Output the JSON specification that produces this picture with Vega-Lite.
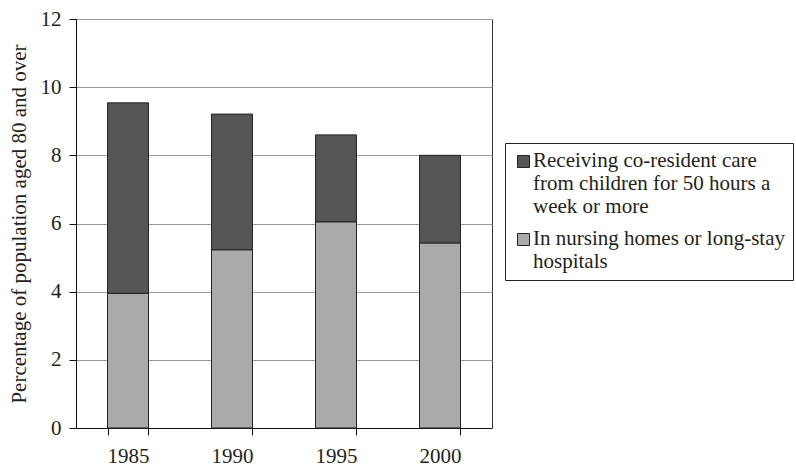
{
  "$schema": "https://vega.github.io/schema/vega-lite/v6.json",
  "width": 416,
  "height": 409,
  "autosize": "none",
  "padding": {"left": 76, "top": 19, "right": 304, "bottom": 39},
  "background": "white",
  "data": {
    "values": [
      {"year": "1985", "series": "In nursing homes or long-stay hospitals", "value": 3.95},
      {"year": "1985", "series": "Receiving co-resident care from children for 50 hours a week or more", "value": 5.59},
      {"year": "1990", "series": "In nursing homes or long-stay hospitals", "value": 5.23},
      {"year": "1990", "series": "Receiving co-resident care from children for 50 hours a week or more", "value": 3.98},
      {"year": "1995", "series": "In nursing homes or long-stay hospitals", "value": 6.05},
      {"year": "1995", "series": "Receiving co-resident care from children for 50 hours a week or more", "value": 2.55},
      {"year": "2000", "series": "In nursing homes or long-stay hospitals", "value": 5.43},
      {"year": "2000", "series": "Receiving co-resident care from children for 50 hours a week or more", "value": 2.57}
    ]
  },
  "mark": {"type": "bar", "stroke": "#222", "strokeWidth": 1},
  "encoding": {
    "x": {
      "field": "year", "type": "nominal",
      "scale": {"paddingInner": 0.606, "paddingOuter": 0.303},
      "axis": {"title": null, "labelAngle": 0, "tickBand": "extent", "tickSize": 7, "labelPadding": 10, "grid": false}
    },
    "y": {
      "field": "value", "type": "quantitative", "stack": "zero",
      "scale": {"domain": [0, 12], "nice": false},
      "axis": {"title": "Percentage of population aged 80 and over", "values": [0, 2, 4, 6, 8, 10, 12], "tickSize": 7, "labelPadding": 8, "titlePadding": 11, "grid": true}
    },
    "color": {
      "field": "series", "type": "nominal",
      "scale": {
        "domain": ["Receiving co-resident care from children for 50 hours a week or more", "In nursing homes or long-stay hospitals"],
        "range": ["#545557", "#a9aaac"]
      },
      "legend": {
        "title": null,
        "orient": "none",
        "legendX": 429,
        "legendY": 124,
        "labelExpr": "datum.label == 'In nursing homes or long-stay hospitals' ? ['In nursing homes or long-stay', 'hospitals'] : ['Receiving co-resident care', 'from children for 50 hours a', 'week or more']",
        "labelLimit": 500,
        "labelBaseline": "alphabetic",
        "labelFontSize": 21,
        "labelFont": "Liberation Serif",
        "labelColor": "#231f20",
        "labelOffset": -1,
        "labelLineHeight": 24,
        "symbolType": "square",
        "symbolSize": 144,
        "symbolStrokeColor": "#222",
        "symbolStrokeWidth": 1,
        "symbolOpacity": 1,
        "strokeColor": "#222",
        "fillColor": "white",
        "padding": 8,
        "rowPadding": 10,
        "encode": {"labels": {"update": {"dy": {"value": 5}}}}
      }
    },
    "order": {"field": "series", "sort": "ascending"}
  },
  "config": {
    "view": {"stroke": "#333", "strokeWidth": 1},
    "axis": {
      "labelFont": "Liberation Serif",
      "labelFontSize": 21,
      "labelColor": "#231f20",
      "titleFont": "Liberation Serif",
      "titleFontSize": 21,
      "titleFontWeight": "normal",
      "titleColor": "#231f20",
      "domainColor": "#111",
      "tickColor": "#111",
      "gridColor": "#999",
      "gridWidth": 1
    }
  }
}
